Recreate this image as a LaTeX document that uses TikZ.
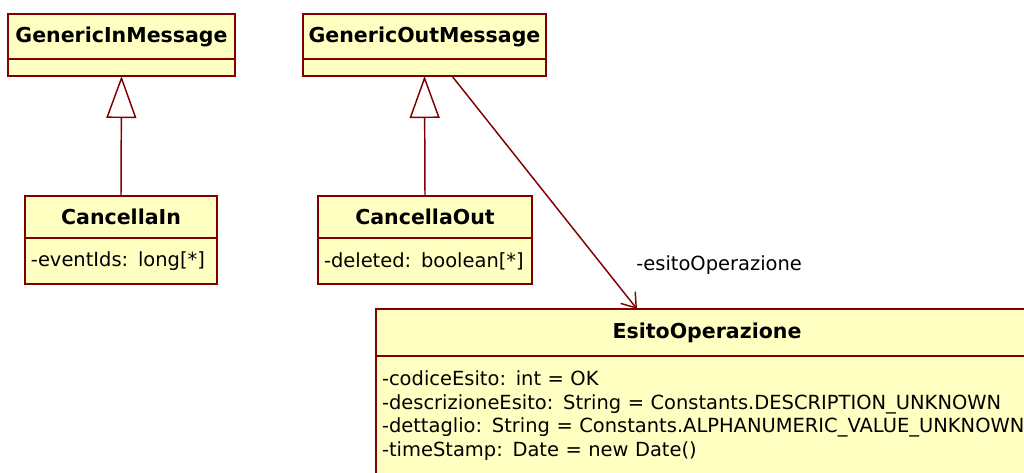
\documentclass[tikz,border=0pt]{standalone}
\usepackage{fontspec}
\setmainfont{DejaVu Sans}
\usepackage{tikz}
\usetikzlibrary{arrows.meta}

\definecolor{umlred}{RGB}{128,0,0}
\definecolor{umlfill}{RGB}{255,255,194}

\begin{document}
\begin{tikzpicture}[x=0.75pt,y=-0.75pt,
  cls/.style={draw=umlred,fill=umlfill,line width=1.1pt,inner sep=0pt,outer sep=0pt,
    anchor=north west,font=\fontsize{14.6}{17}\selectfont},
  head/.style={cls,font=\fontsize{15.4}{18}\selectfont\bfseries},
  attrs/.style={cls,align=left,inner xsep=4.5pt,font=\fontsize{14.6}{17.8}\selectfont},
  gen/.style={draw=umlred,line width=1.1pt,-{Triangle[open,length=31.5pt,width=22.5pt]}},
  assoc/.style={draw=umlred,line width=1.1pt,-{Straight Barb[length=10pt,width=14pt]}}]

\useasboundingbox (0,0) rectangle (1024,472);
\clip (0,0) rectangle (1024,472);

% super classes
\node[head,minimum width=170.25pt,minimum height=33.75pt] (gin) at (8,14) {GenericInMessage};
\node[cls,minimum width=170.25pt,minimum height=12.75pt] (ginb) at (gin.south west) {};
\node[head,minimum width=182.25pt,minimum height=33.75pt] (gout) at (303,14) {GenericOutMessage};
\node[cls,minimum width=182.25pt,minimum height=12.75pt] (goutb) at (gout.south west) {};

% sub classes
\node[head,minimum width=144pt,minimum height=31.5pt] (cin) at (25,196) {CancellaIn};
\node[attrs,text width=135pt,minimum height=34.5pt] (cinb) at (cin.south west) {-eventIds: long[*]};
\node[head,minimum width=160.5pt,minimum height=31.5pt] (cout) at (318,196) {CancellaOut};
\node[attrs,text width=151.5pt,minimum height=34.5pt] (coutb) at (cout.south west) {-deleted: boolean[*]};

% result class
\node[head,minimum width=496.5pt,minimum height=35.25pt] (esito) at (376,309) {EsitoOperazione};
\node[attrs,text width=487.5pt,minimum height=89.25pt] (esitob) at (esito.south west)
  {-codiceEsito: int = OK\\
   -descrizioneEsito: String = Constants.DESCRIPTION\_UNKNOWN\\
   -dettaglio: String = Constants.ALPHANUMERIC\_VALUE\_UNKNOWN\\
   -timeStamp: Date = new Date()};

\draw[gen] (cin.north) -- (ginb.south);
\draw[gen] (cout.north) -- (goutb.south);
\draw[assoc] ([xshift=20.6pt]goutb.south) -- node[pos=0.81,anchor=west,xshift=22pt,
  font=\fontsize{14.6}{17}\selectfont] {-esitoOperazione} ([xshift=195.75pt]esito.north west);

\end{tikzpicture}
\end{document}
